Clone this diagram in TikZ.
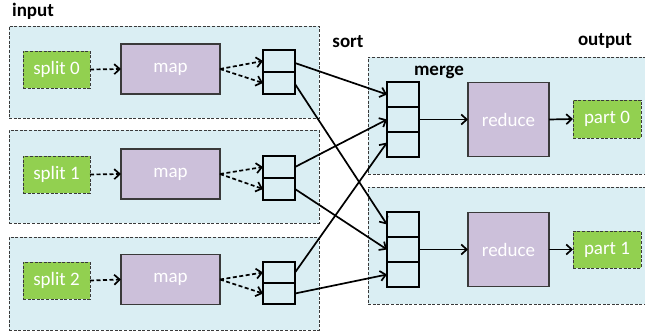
\documentclass[tikz,border=0pt]{standalone}
\usepackage{fontspec}
\setmainfont{Carlito}
\usetikzlibrary{arrows.meta,positioning}
\definecolor{bgblue}{HTML}{DAEEF3}
\definecolor{splitgreen}{HTML}{92D050}
\definecolor{mappurple}{HTML}{CCC0DA}
\definecolor{dashgray}{HTML}{3A3A3A}
\tikzset{
  every node/.style={inner sep=0pt, outer sep=0pt, font=\fontsize{19}{22}\selectfont},
  group/.style={fill=bgblue, draw=dashgray, line width=0.9pt, dash pattern=on 3pt off 1.6pt, anchor=north west},
  splitbox/.style={fill=splitgreen, draw=dashgray, line width=0.9pt, dash pattern=on 3pt off 1.6pt, text=white, minimum width=67pt, minimum height=37pt},
  procbox/.style={fill=mappurple, draw=dashgray, line width=1.2pt, text=white},
  cell/.style={draw=black, line width=1.8pt, minimum width=32pt},
  lbl/.style={font=\fontsize{19}{22}\selectfont\bfseries},
  dflow/.style={line width=1.7pt, dash pattern=on 4pt off 2.5pt, -{Straight Barb[length=5.5pt,width=10pt]}},
  sflow/.style={line width=1.7pt, -{Straight Barb[length=5.5pt,width=10pt]}},
}
\begin{document}
\begin{tikzpicture}[x=1pt,y=-1pt]
\clip (0,0) rectangle (645,335);
% input groups
\node[group, minimum width=310pt, minimum height=92pt] (in0) at (9,26) {};
\node[group, minimum width=310pt, minimum height=93pt] (in1) at (9,130) {};
\node[group, minimum width=310pt, minimum height=93pt] (in2) at (9,237) {};
% output groups (extend past right edge)
\node[group, minimum width=290pt, minimum height=117pt] (out0) at (368,57) {};
\node[group, minimum width=290pt, minimum height=117pt] (out1) at (368,187) {};
% labels
\node[lbl] (linput) at (33,11) {input};
\node[lbl] (lsort) at (348,42) {sort};
\node[lbl] (loutput) at (605,41) {output};
\node[lbl] (lmerge) at (439,72) {merge};
% splits
\node[splitbox] (sp0) at (56.5,69.5) {split 0};
\node[splitbox] (sp1) at (56.5,174.5) {split 1};
\node[splitbox] (sp2) at (56.5,280.5) {split 2};
% maps
\node[procbox, minimum width=99pt, minimum height=50pt] (m0) at (170.5,69) {map};
\node[procbox, minimum width=99pt, minimum height=50pt] (m1) at (170.5,174) {map};
\node[procbox, minimum width=99pt, minimum height=50pt] (m2) at (170.5,279.5) {map};
% sort stacks
\node[cell, minimum height=22pt] (s0a) at (279,61) {};
\node[cell, minimum height=22pt] (s0b) at (279,83) {};
\node[cell, minimum height=22pt] (s1a) at (279,167) {};
\node[cell, minimum height=22pt] (s1b) at (279,189) {};
\node[cell, minimum height=21pt] (s2a) at (279,272.5) {};
\node[cell, minimum height=21pt] (s2b) at (279,293.5) {};
% merge stacks
\node[cell, minimum height=25pt] (ma1) at (403,94.5) {};
\node[cell, minimum height=25pt] (ma2) at (403,119.5) {};
\node[cell, minimum height=25pt] (ma3) at (403,144.5) {};
\node[cell, minimum height=25pt] (mb1) at (403,224.5) {};
\node[cell, minimum height=25pt] (mb2) at (403,249.5) {};
\node[cell, minimum height=25pt] (mb3) at (403,274.5) {};
% reduces
\node[procbox, minimum width=81pt, minimum height=74pt] (r0) at (508.5,119.5) {reduce};
\node[procbox, minimum width=81pt, minimum height=74pt] (r1) at (508.5,249.5) {reduce};
% parts
\node[splitbox, minimum width=68pt, minimum height=38pt] (p0) at (607,119) {part 0};
\node[splitbox, minimum width=68pt, minimum height=37pt] (p1) at (607,249.5) {part 1};
% dashed flows
\draw[dflow] (sp0.east) -- (m0.west);
\draw[dflow] (sp1.east) -- (m1.west);
\draw[dflow] (sp2.east) -- (m2.west);
\draw[dflow] (m0.east) -- (s0a.west);
\draw[dflow] (m0.east) -- (s0b.west);
\draw[dflow] (m1.east) -- (s1a.west);
\draw[dflow] (m1.east) -- (s1b.west);
\draw[dflow] (m2.east) -- (s2a.west);
\draw[dflow] (m2.east) -- (s2b.west);
% shuffle
\draw[sflow] ([yshift=-2pt]s0a.east) -- (ma1.west);
\draw[sflow] ([yshift=-1pt]s0b.east) -- (mb1.west);
\draw[sflow] (s1a.east) -- (ma2.west);
\draw[sflow] (s1b.east) -- (mb2.west);
\draw[sflow] (s2a.east) -- ([yshift=2pt]ma3.west);
\draw[sflow] (s2b.east) -- (mb3.west);
% merge -> reduce -> part
\draw[sflow] (ma2.east) -- (r0.west);
\draw[sflow] (r0.east) -- (p0.west);
\draw[sflow] (mb2.east) -- (r1.west);
\draw[sflow] (r1.east) -- (p1.west);
\end{tikzpicture}
\end{document}
